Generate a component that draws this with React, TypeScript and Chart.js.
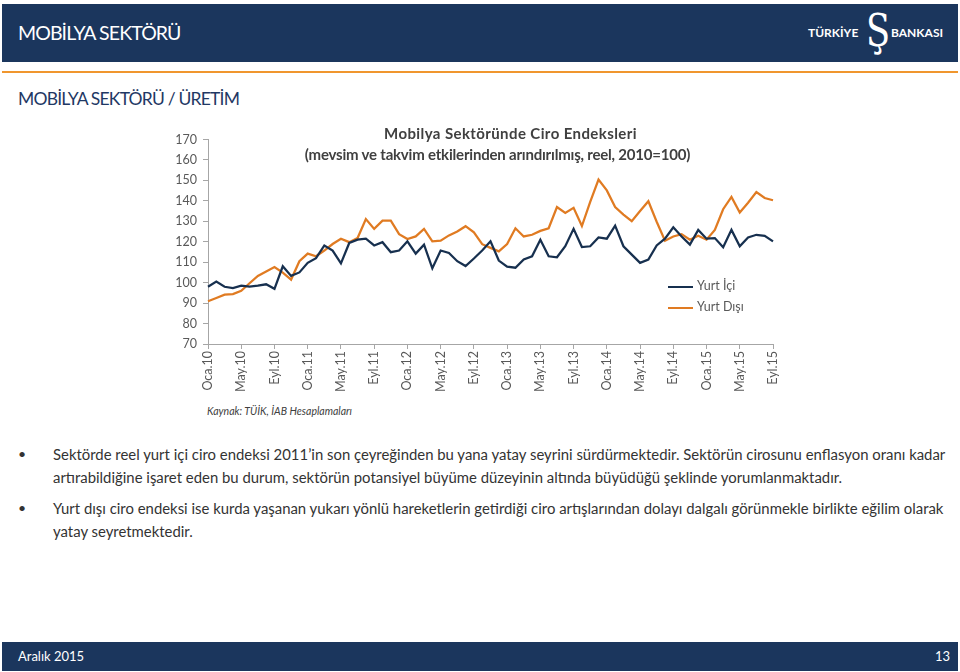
import React, { useEffect, useRef } from "react";
import { Chart, registerables } from "chart.js";

Chart.register(...registerables);

const MONTHS = ["Oca", "Şub", "Mar", "Nis", "May", "Haz", "Tem", "Ağu", "Eyl", "Eki", "Kas", "Ara"];
const YEARS = ["10", "11", "12", "13", "14", "15"];
const categories: string[] = [];
YEARS.forEach((y) => MONTHS.forEach((m) => categories.push(m + "." + y)));
const labels = categories.slice(0, 69); // Oca.10 .. Eyl.15

const yurtIci = [
  98, 100.5, 98, 97.3, 98.5, 98, 98.5, 99.2, 97, 108, 103.3, 105,
  109.7, 112, 118.2, 115.7, 109.4, 119.4, 121, 121.5, 118.2, 119.8, 114.9, 115.7,
  120.2, 114.2, 118.6, 107, 115.7, 114.5, 110.5, 108.1, 111.8, 115.7, 120.2, 110.8,
  107.8, 107.3, 111.3, 112.9, 121, 112.9, 112.4, 117.8, 126.3, 117.4, 117.8, 122.1,
  121.5, 127.9, 117.8, 113.7, 109.7, 111.3, 118.2, 121.5, 127.1, 122.6, 118.6, 125.8,
  121.5, 121.8, 117.3, 125.8, 117.8, 122.1, 123.4, 122.9, 120.2,
];

const yurtDisi = [
  90.9, 92.5, 94.1, 94.4, 96, 99.7, 103.3, 105.4, 107.6, 104.9, 101.5, 110.5,
  114.2, 112.9, 115.7, 118.9, 121.5, 119.8, 121.8, 131.1, 126.3, 130.3, 130.3, 123.7,
  121.3, 122.6, 126.3, 120.2, 120.5, 123.1, 125, 127.6, 124.6, 118.8, 117, 115.3,
  118.9, 126.6, 122.6, 123.4, 125.3, 126.6, 137, 134.1, 136.6, 127.7, 139.5, 150.4,
  145.1, 137, 133.3, 130.1, 135, 139.8, 129.8, 120.5, 122.6, 123.7, 121, 122.9,
  121, 125.8, 135.9, 141.9, 134.3, 139.1, 144.3, 141.4, 140.3,
];

const yTicks = [70, 80, 90, 100, 110, 120, 130, 140, 150, 160, 170];

const NAVY = "#1B365D";
const LINE_NAVY = "#17304F";
const LINE_ORANGE = "#E07B22";
const AXIS = "#A6A6A6";
const TICK_TXT = "#595959";
const FONT = "Lato, 'Open Sans', sans-serif";

function LineChart() {
  const ref = useRef<HTMLCanvasElement>(null);
  useEffect(() => {
    if (!ref.current) return;
    const chart = new Chart(ref.current, {
      type: "line",
      data: {
        labels,
        datasets: [
          {
            label: "Yurt İçi",
            data: yurtIci,
            borderColor: LINE_NAVY,
            backgroundColor: LINE_NAVY,
            borderWidth: 2.25,
            pointRadius: 0,
            tension: 0,
          },
          {
            label: "Yurt Dışı",
            data: yurtDisi,
            borderColor: LINE_ORANGE,
            backgroundColor: LINE_ORANGE,
            borderWidth: 2.25,
            pointRadius: 0,
            tension: 0,
          },
        ],
      },
      options: {
        animation: false,
        responsive: false,
        maintainAspectRatio: false,
        layout: { padding: { top: 10.7, right: 8, left: 0, bottom: 0 } },
        plugins: { legend: { display: false }, title: { display: false }, tooltip: { enabled: false } },
        scales: {
          x: {
            type: "category",
            offset: false,
            border: { display: true, color: AXIS, width: 1 },
            grid: {
              display: true,
              drawOnChartArea: false,
              drawTicks: true,
              tickLength: 5,
              color: AXIS,
            },
            ticks: {
              autoSkip: false,
              maxRotation: 90,
              minRotation: 90,
              padding: 2,
              color: TICK_TXT,
              font: { family: FONT, size: 12.5 },
              callback: (_v: any, i: number) => (i % 4 === 0 ? labels[i] : null),
            },
            afterFit: (s: any) => {
              s.height = 56;
            },
          },
          y: {
            min: 70,
            max: 170,
            border: { display: true, color: AXIS, width: 1 },
            grid: {
              display: true,
              drawOnChartArea: false,
              drawTicks: true,
              tickLength: 5,
              color: AXIS,
            },
            afterBuildTicks: (s: any) => {
              s.ticks = yTicks.map((v) => ({ value: v }));
            },
            ticks: {
              padding: 6,
              color: TICK_TXT,
              font: { family: FONT, size: 12.5 },
            },
            afterFit: (s: any) => {
              s.width = 58;
            },
          },
        },
      },
    });
    return () => chart.destroy();
  }, []);
  return (
    <canvas
      ref={ref}
      width={640}
      height={274}
      style={{ position: "absolute", left: 150, top: 126, width: 640, height: 274 }}
    />
  );
}

const bulletText: string[][] = [
  [
    "Sektörde reel yurt içi ciro endeksi 2011’in son çeyreğinden bu yana yatay seyrini sürdürmektedir. Sektörün cirosunu enflasyon oranı kadar",
    "artırabildiğine işaret eden bu durum, sektörün potansiyel büyüme düzeyinin altında büyüdüğü şeklinde yorumlanmaktadır.",
  ],
  [
    "Yurt dışı ciro endeksi ise kurda yaşanan yukarı yönlü hareketlerin getirdiği ciro artışlarından dolayı dalgalı görünmekle birlikte eğilim olarak",
    "yatay seyretmektedir.",
  ],
];

export default function App() {
  const txt: React.CSSProperties = { position: "absolute", whiteSpace: "nowrap", lineHeight: 1 };
  return (
    <div
      style={{
        position: "absolute",
        left: 0,
        top: 0,
        width: 960,
        height: 672,
        background: "#fff",
        overflow: "hidden",
        fontFamily: FONT,
      }}
    >
      {/* header */}
      <div style={{ position: "absolute", left: 2, top: 4, width: 956, height: 58, background: NAVY }} />
      <div style={{ ...txt, left: 18, top: 23, color: "#fff", fontSize: 19.5, letterSpacing: -0.9 }}>MOBİLYA SEKTÖRÜ</div>
      <div style={{ ...txt, left: 808, top: 27, color: "#fff", fontSize: 12, fontWeight: 700 }}>TÜRKİYE</div>
      <div style={{ ...txt, left: 866, top: 9, color: "#fff", fontSize: 44, fontWeight: 400, fontFamily: "'DejaVu Serif', serif", transform: "scaleX(0.8)", transformOrigin: "left" }}>Ş</div>
      <div style={{ ...txt, left: 891, top: 27, color: "#fff", fontSize: 12, fontWeight: 700 }}>BANKASI</div>
      <div style={{ position: "absolute", left: 2, top: 71, width: 956, height: 2, background: "#F0962E" }} />
      <div style={{ ...txt, left: 18, top: 90, color: "#1F3864", fontSize: 17.5, letterSpacing: -0.8 }}>MOBİLYA SEKTÖRÜ / ÜRETİM</div>

      {/* chart */}
      <LineChart />
      <div style={{ position: "absolute", left: 290, top: 123, width: 415, textAlign: "center", color: "#404040", fontSize: 15, fontWeight: 700, lineHeight: "21px" }}>
        <div style={{ letterSpacing: 0.4, paddingLeft: 26 }}>Mobilya Sektöründe Ciro Endeksleri</div>
        <div style={{ letterSpacing: -0.2 }}>(mevsim ve takvim etkilerinden arındırılmış, reel, 2010=100)</div>
      </div>
      {/* legend */}
      <div style={{ position: "absolute", left: 668, top: 286, width: 25, height: 2, background: LINE_NAVY }} />
      <div style={{ ...txt, left: 697, top: 280, color: TICK_TXT, fontSize: 12.5 }}>Yurt İçi</div>
      <div style={{ position: "absolute", left: 668, top: 307, width: 25, height: 2, background: LINE_ORANGE }} />
      <div style={{ ...txt, left: 697, top: 301, color: TICK_TXT, fontSize: 12.5 }}>Yurt Dışı</div>

      <div style={{ ...txt, left: 207, top: 406, color: "#404040", fontSize: 10.5, fontStyle: "italic" }}>Kaynak: TÜİK, İAB Hesaplamaları</div>

      {/* bullets */}
      {bulletText.map((lines, bi) => (
        <React.Fragment key={bi}>
          <div style={{ ...txt, left: 18, top: (bi === 0 ? 447 : 501), color: "#333333", fontSize: 14 }}>•</div>
          {lines.map((l, li) => (
            <div
              key={li}
              style={{ ...txt, left: 53, top: (bi === 0 ? 447 : 501) + li * 23, color: "#333333", fontSize: 14.9 }}
            >
              {l}
            </div>
          ))}
        </React.Fragment>
      ))}

      {/* footer */}
      <div style={{ position: "absolute", left: 2, top: 642, width: 956, height: 29, background: NAVY }} />
      <div style={{ ...txt, left: 18, top: 650, color: "#fff", fontSize: 13 }}>Aralık 2015</div>
      <div style={{ ...txt, left: 935, top: 650, color: "#fff", fontSize: 13 }}>13</div>
    </div>
  );
}
